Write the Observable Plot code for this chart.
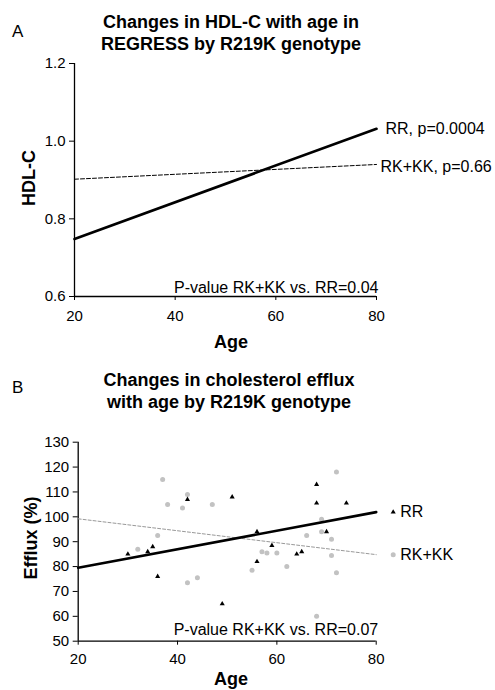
<!DOCTYPE html>
<html>
<head>
<meta charset="utf-8">
<script src="https://cdn.jsdelivr.net/npm/d3@7"></script>
<script src="https://cdn.jsdelivr.net/npm/@observablehq/plot@0.6"></script>
<style>
  body { margin: 0; background: #fff; font-family: "Liberation Sans", Arial, sans-serif; }
  #wrap { position: relative; width: 495px; height: 690px; overflow: hidden; background: #fff; }
  #wrap svg { position: absolute; left: 0; }
  .t { position: absolute; white-space: nowrap; color: #000; line-height: 1; }
  .title { font-weight: bold; font-size: 18px; line-height: 22px; text-align: center; }
  .axl { font-weight: bold; font-size: 18px; transform: translate(-50%, -50%); }
  .rot { transform: translate(-50%, -50%) rotate(-90deg); }
  .panel { font-size: 17px; }
</style>
</head>
<body>
<div id="wrap"></div>
<script>
// ---------- data ----------
const ageTicks = [20, 40, 60, 80];
const hdlTicks = [0.6, 0.8, 1.0, 1.2];
const effluxTicks = [50, 60, 70, 80, 90, 100, 110, 120, 130];
const fitAges = [20, 80];

// Panel A: fitted HDL-C lines
const hdlFitRR = [0.748, 1.032];
const hdlFitRKKK = [0.902, 0.940];
const hdlEndLabels = ["RR, p=0.0004", "RK+KK, p=0.66"];
const pValueA = "P-value RK+KK vs. RR=0.04";

// Panel B: scatter + fitted efflux lines
const genotypes = ["RR", "RK+KK"];
const rrAge =     [30, 34, 35, 36, 42, 49, 51, 56, 56, 59, 64, 65, 68, 68, 70, 74];
const rrEfflux =  [85, 86, 88, 76, 107, 65, 108, 94, 82, 88.5, 85, 86, 113, 105.5, 94, 105.5];
const rkAge =     [32, 37, 36, 38, 41, 42, 42, 44, 47, 55, 57, 58, 60, 62, 66, 68, 69, 69, 71, 71, 72, 72];
const rkEfflux =  [87, 115, 92.5, 105, 103.5, 109, 73.5, 75.5, 105, 78.5, 86, 85.5, 85.5, 80, 92.5, 60, 99, 94, 91, 84.5, 118, 77.5];
const effluxFitRR = [79.5, 101.9];
const effluxFitRKKK = [99.2, 84.8];
const pValueB = "P-value RK+KK vs. RR=0.07";

// ---------- helpers ----------
const FONT = '"Liberation Sans", Arial, sans-serif';
const pts = (xs, ys) => xs.map((x, i) => ({x, y: ys[i]}));
const wrap = document.getElementById("wrap");

// ---------- Panel A ----------
const plotA = Plot.plot({
  width: 495, height: 330,
  marginTop: 63, marginBottom: 34, marginLeft: 74, marginRight: 119,
  style: {fontFamily: FONT, fontSize: "15px", background: "transparent", overflow: "visible", color: "#000"},
  x: {domain: [ageTicks[0], ageTicks[ageTicks.length - 1]], ticks: ageTicks, tickSize: 4, tickPadding: 10, label: null},
  y: {domain: [hdlTicks[0], hdlTicks[hdlTicks.length - 1]], ticks: hdlTicks, tickFormat: d => d.toFixed(1), tickSize: 5, tickPadding: 4, label: null},
  marks: [
    Plot.ruleX([ageTicks[0]], {stroke: "#000", strokeWidth: 1.3}),
    Plot.ruleY([hdlTicks[0]], {stroke: "#000", strokeWidth: 1.3}),
    Plot.line(pts(fitAges, hdlFitRKKK), {x: "x", y: "y", stroke: "#000", strokeWidth: 1, strokeDasharray: "4,2"}),
    Plot.line(pts(fitAges, hdlFitRR), {x: "x", y: "y", stroke: "#000", strokeWidth: 2.6}),
    Plot.text([{x: fitAges[1], y: hdlFitRR[1], t: hdlEndLabels[0]}], {x: "x", y: "y", text: "t", textAnchor: "start", dx: 9, fontSize: 16, fill: "#000"}),
    Plot.text([{x: fitAges[1], y: hdlFitRKKK[1], t: hdlEndLabels[1]}], {x: "x", y: "y", text: "t", textAnchor: "start", dx: 4, dy: 2, fontSize: 16, fill: "#000"}),
    Plot.text([pValueA], {text: d => d, frameAnchor: "bottom-right", textAnchor: "end", dx: 2, dy: -4, fontSize: 16, fill: "#000"})
  ]
});
plotA.style.top = "0px";
wrap.appendChild(plotA);

// ---------- Panel B ----------
const plotB = Plot.plot({
  width: 495, height: 360,
  marginTop: 111.7, marginBottom: 49.3, marginLeft: 77.7, marginRight: 119.3,
  style: {fontFamily: FONT, fontSize: "15px", background: "transparent", overflow: "visible", color: "#000"},
  x: {domain: [ageTicks[0], ageTicks[ageTicks.length - 1]], ticks: ageTicks, tickSize: 4, tickPadding: 8, label: null},
  y: {domain: [effluxTicks[0], effluxTicks[effluxTicks.length - 1]], ticks: effluxTicks, tickSize: 5, tickPadding: 4, label: null},
  marks: [
    Plot.ruleX([ageTicks[0]], {stroke: "#000", strokeWidth: 1.3}),
    Plot.ruleY([effluxTicks[0]], {stroke: "#000", strokeWidth: 1.3}),
    Plot.dot(pts(rkAge, rkEfflux), {x: "x", y: "y", r: 2.5, fill: "#c2c2c2", stroke: "none"}),
    Plot.dot(pts(rrAge, rrEfflux), {x: "x", y: "y", r: 1.9, symbol: "triangle", fill: "#000", stroke: "none"}),
    Plot.line(pts(fitAges, effluxFitRKKK), {x: "x", y: "y", stroke: "#999", strokeWidth: 1, strokeDasharray: "3,2"}),
    Plot.line(pts(fitAges, effluxFitRR), {x: "x", y: "y", stroke: "#000", strokeWidth: 2.6}),
    // end-of-line legend
    Plot.dot([{x: fitAges[1], y: effluxFitRR[1]}], {x: "x", y: "y", dx: 17, r: 1.9, symbol: "triangle", fill: "#000", stroke: "none"}),
    Plot.dot([{x: fitAges[1], y: effluxFitRKKK[1]}], {x: "x", y: "y", dx: 17, r: 2.5, fill: "#c2c2c2", stroke: "none"}),
    Plot.text([{x: fitAges[1], y: effluxFitRR[1], t: genotypes[0]}], {x: "x", y: "y", text: "t", textAnchor: "start", dx: 24, fontSize: 16, fill: "#000"}),
    Plot.text([{x: fitAges[1], y: effluxFitRKKK[1], t: genotypes[1]}], {x: "x", y: "y", text: "t", textAnchor: "start", dx: 24, fontSize: 16, fill: "#000"}),
    Plot.text([pValueB], {text: d => d, frameAnchor: "bottom-right", textAnchor: "end", dx: 2, dy: -6, fontSize: 16, fill: "#000"})
  ]
});
plotB.style.top = "330px";
wrap.appendChild(plotB);

// ---------- HTML text (titles, panel letters, axis titles) ----------
function addText(html, cls, css) {
  const d = document.createElement("div");
  d.className = "t " + cls;
  d.textContent = html;
  Object.assign(d.style, css);
  wrap.appendChild(d);
  return d;
}
const tA = addText("", "title", {left: "0px", width: "462px", top: "11px"});
tA.innerHTML = "Changes in HDL-C with age in<br>REGRESS by R219K genotype";
const tB = addText("", "title", {left: "0px", width: "458px", top: "369px"});
tB.innerHTML = "Changes in cholesterol efflux<br>with age by R219K genotype";
addText("A", "panel", {left: "12px", top: "23px"});
addText("B", "panel", {left: "12px", top: "379px"});
addText("HDL-C", "axl rot", {left: "28.5px", top: "178px"});
addText("Efflux (%)", "axl rot", {left: "31px", top: "538px"});
addText("Age", "axl", {left: "231px", top: "342px"});
addText("Age", "axl", {left: "231px", top: "679px"});
</script>
</body>
</html>
